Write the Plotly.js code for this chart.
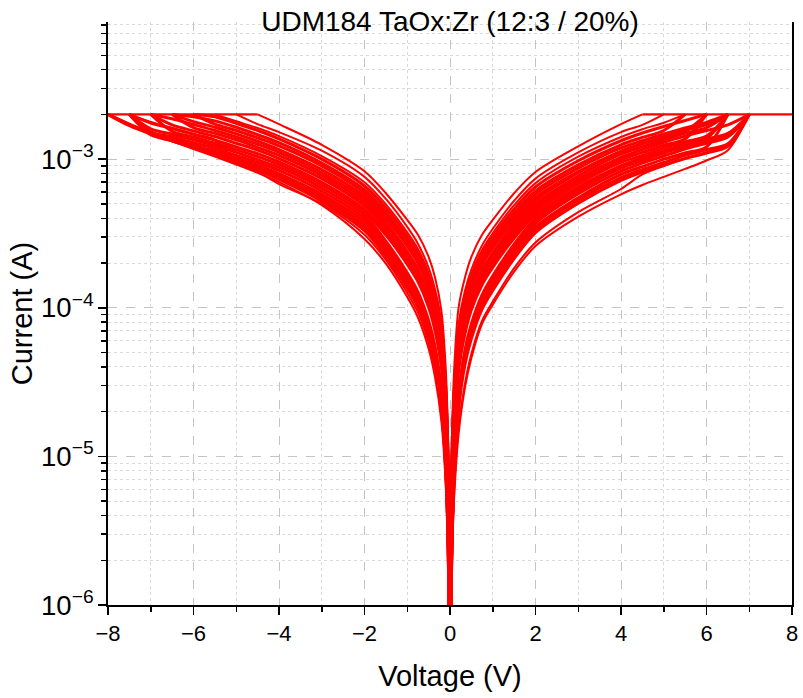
<!DOCTYPE html>
<html><head><meta charset="utf-8">
<script src="https://cdn.plot.ly/plotly-3.0.1.min.js"></script>
<style>html,body{margin:0;padding:0;background:#fff}#chart{width:803px;height:698px}</style>
</head><body><div id="chart"></div>
<script>
// Voltage points (V) shared by all sweeps; each sweep stops where it hits compliance
const posVoltage = [0, 0.02, 0.05, 0.1, 0.2, 0.35, 0.5, 0.75, 1, 1.5, 2, 3, 4, 4.5, 5, 5.5, 6, 6.5, 7, 7.5, 8];
const negVoltage = [0, -0.02, -0.05, -0.1, -0.2, -0.35, -0.5, -0.75, -1, -1.5, -2, -3, -4, -4.5, -5, -5.5, -6, -6.5, -7, -7.5, -8];
const complianceCurrent = 2e-3;

// Positive-bias sweeps: current (A)
const pos01 = [3e-7, 4e-6, 1.5e-5, 4e-5, 1e-4, 1.6e-4, 2.2e-4, 3.1e-4, 3.9e-4, 5.9e-4, 8.2e-4, 1.22e-3, 1.72e-3, 2e-3];
const pos02 = [3e-7, 3.7e-6, 1.26e-5, 3.2e-5, 7.8e-5, 1.3e-4, 1.81e-4, 2.63e-4, 3.4e-4, 5.25e-4, 7.4e-4, 1.11e-3, 1.52e-3, 1.7e-3, 2e-3];
const pos03 = [3e-7, 3.45e-6, 1.17e-5, 2.97e-5, 7.2e-5, 1.21e-4, 1.69e-4, 2.45e-4, 3.17e-4, 4.9e-4, 6.9e-4, 1.04e-3, 1.41e-3, 1.59e-3, 1.76e-3, 2e-3];
const pos04 = [3e-7, 3.25e-6, 1.1e-5, 2.8e-5, 6.8e-5, 1.14e-4, 1.59e-4, 2.31e-4, 2.99e-4, 4.6e-4, 6.5e-4, 9.75e-4, 1.33e-3, 1.5e-3, 1.66e-3, 1.82e-3, 2e-3];
const pos05 = [3e-7, 3.05e-6, 1.04e-5, 2.6e-5, 6.4e-5, 1.07e-4, 1.49e-4, 2.17e-4, 2.8e-4, 4.33e-4, 6.1e-4, 9.15e-4, 1.25e-3, 1.4e-3, 1.56e-3, 2e-3];
const pos06 = [3e-7, 2.9e-6, 9.9e-6, 2.5e-5, 6.1e-5, 1.02e-4, 1.42e-4, 2.06e-4, 2.67e-4, 4.12e-4, 5.8e-4, 8.7e-4, 1.19e-3, 1.33e-3, 1.48e-3, 1.62e-3, 1.77e-3, 2e-3];
const pos07 = [3e-7, 2.75e-6, 9.4e-6, 2.37e-5, 5.8e-5, 9.6e-5, 1.35e-4, 1.95e-4, 2.53e-4, 3.9e-4, 5.5e-4, 8.25e-4, 1.13e-3, 1.27e-3, 1.4e-3, 1.54e-3, 2e-3];
const pos08 = [3e-7, 2e-6, 7.1e-6, 1.84e-5, 4.7e-5, 8.4e-5, 1.21e-4, 1.79e-4, 2.34e-4, 3.68e-4, 5.25e-4, 8.1e-4, 1.13e-3, 1.27e-3, 1.42e-3, 1.56e-3, 1.71e-3, 2e-3];
const pos09 = [3e-7, 1.9e-6, 6.75e-6, 1.75e-5, 4.5e-5, 8e-5, 1.15e-4, 1.7e-4, 2.23e-4, 3.5e-4, 5e-4, 7.7e-4, 1.08e-3, 1.21e-3, 1.35e-3, 1.49e-3, 1.63e-3, 2e-3];
const pos10 = [3e-7, 1.82e-6, 6.5e-6, 1.68e-5, 4.3e-5, 7.7e-5, 1.1e-4, 1.63e-4, 2.14e-4, 3.36e-4, 4.8e-4, 7.4e-4, 1.03e-3, 1.16e-3, 1.3e-3, 1.43e-3, 1.56e-3, 1.7e-3, 2e-3];
const pos11 = [3e-7, 1.75e-6, 6.2e-6, 1.61e-5, 4.1e-5, 7.4e-5, 1.06e-4, 1.56e-4, 2.05e-4, 3.22e-4, 4.6e-4, 7.1e-4, 9.9e-4, 1.11e-3, 1.24e-3, 1.37e-3, 2e-3];
const pos12 = [3e-7, 1.67e-6, 5.9e-6, 1.54e-5, 4e-5, 7e-5, 1.01e-4, 1.5e-4, 1.96e-4, 3.08e-4, 4.4e-4, 6.8e-4, 9.5e-4, 1.06e-3, 1.19e-3, 1.31e-3, 1.43e-3, 2e-3];
const pos13 = [3e-7, 1.6e-6, 5.7e-6, 1.47e-5, 3.8e-5, 6.7e-5, 9.7e-5, 1.43e-4, 1.87e-4, 2.94e-4, 4.2e-4, 6.5e-4, 9e-4, 1.02e-3, 1.13e-3, 1.25e-3, 1.37e-3, 1.49e-3, 2e-3];
const pos14 = [3e-7, 1e-6, 3.6e-6, 9.6e-6, 2.6e-5, 5.2e-5, 7.8e-5, 1.22e-4, 1.64e-4, 2.68e-4, 4e-4, 6.3e-4, 9e-4, 1.02e-3, 1.14e-3, 1.26e-3, 1.38e-3, 2e-3];
const pos15 = [3e-7, 9.6e-7, 3.5e-6, 9.2e-6, 2.5e-5, 5e-5, 7.5e-5, 1.17e-4, 1.58e-4, 2.58e-4, 3.85e-4, 6.1e-4, 8.7e-4, 9.8e-4, 1.1e-3, 1.21e-3, 1.33e-3, 1.46e-3, 2e-3];
const pos16 = [3e-7, 9.2e-7, 3.3e-6, 8.9e-6, 2.4e-5, 4.8e-5, 7.2e-5, 1.13e-4, 1.52e-4, 2.48e-4, 3.7e-4, 5.85e-4, 8.3e-4, 9.4e-4, 1.05e-3, 1.17e-3, 1.28e-3, 1.41e-3, 2e-3];
const pos17 = [3e-7, 8.7e-7, 3.15e-6, 8.4e-6, 2.28e-5, 4.55e-5, 6.8e-5, 1.07e-4, 1.44e-4, 2.35e-4, 3.5e-4, 5.5e-4, 7.9e-4, 8.9e-4, 1e-3, 1.1e-3, 1.21e-3, 2e-3];
const pos18 = [3e-7, 8.4e-7, 3e-6, 8e-6, 2.18e-5, 4.35e-5, 6.5e-5, 1.02e-4, 1.37e-4, 2.24e-4, 3.35e-4, 5.3e-4, 7.5e-4, 8.5e-4, 9.5e-4, 1.06e-3, 1.16e-3, 1.27e-3, 2e-3];
const pos19 = [3e-7, 8e-7, 2.9e-6, 7.7e-6, 2.08e-5, 4.15e-5, 6.2e-5, 9.8e-5, 1.31e-4, 2.14e-4, 3.2e-4, 5.05e-4, 7.2e-4, 8.2e-4, 9.1e-4, 1.01e-3, 1.1e-3, 1.22e-3, 2e-3];
const pos20 = [3e-7, 6.5e-7, 2.4e-6, 6e-6, 1.55e-5, 3.1e-5, 4.9e-5, 8.2e-5, 1.1e-4, 1.85e-4, 2.75e-4, 4.4e-4, 6.3e-4, 7.9e-4, 9e-4, 1.01e-3, 1.12e-3, 1.25e-3, 2e-3];
const pos21 = [3e-7, 6e-7, 2.2e-6, 5.5e-6, 1.4e-5, 2.9e-5, 4.6e-5, 7.8e-5, 1.05e-4, 1.75e-4, 2.6e-4, 4.1e-4, 5.8e-4, 6.7e-4, 7.6e-4, 8.6e-4, 9.8e-4, 1.15e-3, 2e-3];

// Negative-bias sweeps: |current| (A)
const neg01 = [3e-7, 4e-6, 1.5e-5, 3.9e-5, 9.5e-5, 1.6e-4, 2.2e-4, 3.1e-4, 3.9e-4, 5.9e-4, 8.3e-4, 1.25e-3, 1.72e-3, 2e-3];
const neg02 = [3e-7, 3.8e-6, 1.3e-5, 3.3e-5, 8e-5, 1.33e-4, 1.86e-4, 2.7e-4, 3.5e-4, 5.4e-4, 7.6e-4, 1.14e-3, 1.52e-3, 1.72e-3, 2e-3];
const neg03 = [3e-7, 3.5e-6, 1.19e-5, 3e-5, 7.35e-5, 1.23e-4, 1.72e-4, 2.49e-4, 3.22e-4, 4.97e-4, 7e-4, 1.05e-3, 1.43e-3, 1.62e-3, 1.8e-3, 2e-3];
const neg04 = [3e-7, 3.3e-6, 1.12e-5, 2.84e-5, 6.9e-5, 1.16e-4, 1.62e-4, 2.34e-4, 3.04e-4, 4.7e-4, 6.6e-4, 1.0e-3, 1.37e-3, 1.56e-3, 1.74e-3, 1.93e-3, 2e-3];
const neg05 = [3e-7, 3.1e-6, 1.05e-5, 2.67e-5, 6.5e-5, 1.09e-4, 1.52e-4, 2.2e-4, 2.85e-4, 4.4e-4, 6.2e-4, 9.4e-4, 1.29e-3, 1.46e-3, 1.64e-3, 1.81e-3, 1.93e-3, 2e-3];
const neg06 = [3e-7, 2.95e-6, 1e-5, 2.54e-5, 6.2e-5, 1.03e-4, 1.45e-4, 2.09e-4, 2.71e-4, 4.19e-4, 5.9e-4, 9e-4, 1.23e-3, 1.39e-3, 1.56e-3, 1.72e-3, 2e-3];
const neg07 = [3e-7, 2.8e-6, 9.5e-6, 2.4e-5, 5.9e-5, 9.8e-5, 1.37e-4, 1.99e-4, 2.58e-4, 3.98e-4, 5.6e-4, 8.5e-4, 1.16e-3, 1.32e-3, 1.48e-3, 1.64e-3, 1.79e-3, 2e-3];
const neg08 = [3e-7, 2.03e-6, 7.2e-6, 1.87e-5, 4.8e-5, 8.6e-5, 1.23e-4, 1.82e-4, 2.38e-4, 3.75e-4, 5.35e-4, 8.1e-4, 1.11e-3, 1.26e-3, 1.41e-3, 1.56e-3, 1.71e-3, 1.87e-3, 2e-3];
const neg09 = [3e-7, 1.94e-6, 6.9e-6, 1.79e-5, 4.6e-5, 8.2e-5, 1.17e-4, 1.73e-4, 2.27e-4, 3.57e-4, 5.1e-4, 7.75e-4, 1.06e-3, 1.2e-3, 1.35e-3, 1.49e-3, 1.63e-3, 2e-3];
const neg10 = [3e-7, 1.84e-6, 6.5e-6, 1.7e-5, 4.4e-5, 7.8e-5, 1.12e-4, 1.65e-4, 2.16e-4, 3.4e-4, 4.85e-4, 7.4e-4, 1.01e-3, 1.15e-3, 1.28e-3, 1.42e-3, 1.55e-3, 1.7e-3, 2e-3];
const neg11 = [3e-7, 1.75e-6, 6.2e-6, 1.61e-5, 4.1e-5, 7.4e-5, 1.06e-4, 1.56e-4, 2.05e-4, 3.22e-4, 4.6e-4, 7e-4, 9.6e-4, 1.09e-3, 1.21e-3, 1.34e-3, 1.47e-3, 1.61e-3, 1.75e-3, 2e-3];
const neg12 = [3e-7, 1.67e-6, 5.9e-6, 1.54e-5, 4e-5, 7e-5, 1.01e-4, 1.5e-4, 1.96e-4, 3.08e-4, 4.4e-4, 6.7e-4, 9.2e-4, 1.04e-3, 1.16e-3, 1.28e-3, 1.41e-3, 1.54e-3, 2e-3];
const neg13 = [3e-7, 1.05e-6, 3.8e-6, 1.01e-5, 2.73e-5, 5.5e-5, 8.2e-5, 1.28e-4, 1.72e-4, 2.81e-4, 4.2e-4, 6.4e-4, 8.8e-4, 9.9e-4, 1.11e-3, 1.23e-3, 1.35e-3, 1.47e-3, 1.6e-3, 2e-3];
const neg14 = [3e-7, 1e-6, 3.6e-6, 9.6e-6, 2.6e-5, 5.2e-5, 7.8e-5, 1.22e-4, 1.64e-4, 2.68e-4, 4e-4, 6.1e-4, 8.4e-4, 9.5e-4, 1.06e-3, 1.18e-3, 1.29e-3, 1.41e-3, 1.53e-3, 2e-3];
const neg15 = [3e-7, 9.5e-7, 3.4e-6, 9.1e-6, 2.47e-5, 4.9e-5, 7.4e-5, 1.16e-4, 1.56e-4, 2.55e-4, 3.8e-4, 5.8e-4, 8e-4, 9.1e-4, 1.02e-3, 1.13e-3, 1.24e-3, 1.36e-3, 1.49e-3, 1.7e-3, 2e-3];
const neg16 = [3e-7, 9e-7, 3.25e-6, 8.6e-6, 2.34e-5, 4.7e-5, 7e-5, 1.1e-4, 1.48e-4, 2.41e-4, 3.6e-4, 5.55e-4, 7.7e-4, 8.8e-4, 9.9e-4, 1.1e-3, 1.21e-3, 1.33e-3, 1.46e-3, 2e-3];
const neg17 = [3e-7, 8.6e-7, 3.1e-6, 8.3e-6, 2.24e-5, 4.5e-5, 6.7e-5, 1.05e-4, 1.41e-4, 2.31e-4, 3.45e-4, 5.35e-4, 7.5e-4, 8.6e-4, 9.7e-4, 1.08e-3, 1.2e-3, 1.33e-3, 1.48e-3, 1.68e-3, 2e-3];
const neg18 = [3e-7, 8.2e-7, 3e-6, 7.9e-6, 2.15e-5, 4.3e-5, 6.4e-5, 1.01e-4, 1.35e-4, 2.21e-4, 3.3e-4, 5.2e-4, 7.3e-4, 8.4e-4, 9.5e-4, 1.07e-3, 1.19e-3, 1.33e-3, 1.5e-3, 1.72e-3, 2e-3];
const neg19 = [3e-7, 8e-7, 2.8e-6, 7.5e-6, 1.9e-5, 3.8e-5, 5.8e-5, 9.3e-5, 1.26e-4, 2.1e-4, 3.1e-4, 5e-4, 6.8e-4, 8.2e-4, 9.5e-4, 1.35e-3, 1.48e-3, 1.62e-3, 1.78e-3, 2e-3];
const neg20 = [3e-7, 7e-7, 2.5e-6, 6.5e-6, 1.7e-5, 3.4e-5, 5.3e-5, 8.6e-5, 1.18e-4, 1.98e-4, 2.9e-4, 4.9e-4, 7e-4, 8.1e-4, 9.2e-4, 1.04e-3, 1.17e-3, 1.32e-3, 1.5e-3, 1.72e-3, 2e-3];

const chartTitle = 'UDM184 TaOx:Zr (12:3 / 20%)';
const xTitle = 'Voltage (V)';
const yTitle = 'Current (A)';

// outer (isolated) sweeps are drawn thinner than the dense central band
const posOuter = [pos01, pos02, pos03, pos20, pos21];
const posDense = [pos04, pos05, pos06, pos07, pos08, pos09, pos10, pos11, pos12, pos13, pos14, pos15, pos16, pos17, pos18, pos19];
const negOuter = [neg01, neg02, neg03, neg19, neg20];
const negDense = [neg04, neg05, neg06, neg07, neg08, neg09, neg10, neg11, neg12, neg13, neg14, neg15, neg16, neg17, neg18];

const outerStyle = {color: '#ff0000', width: 2, shape: 'spline', smoothing: 0.9};
const denseStyle = {color: '#ff0000', width: 3, shape: 'spline', smoothing: 0.9};
const flatStyle = {color: '#ff0000', width: 2.2};
const traces = [];
function addSweeps(list, volts, style) {
  list.forEach(s => traces.push({type: 'scatter', mode: 'lines', x: volts.slice(0, s.length), y: s, line: style, hoverinfo: 'skip', showlegend: false}));
}
addSweeps(posDense, posVoltage, denseStyle);
addSweeps(negDense, negVoltage, denseStyle);
addSweeps(posOuter, posVoltage, outerStyle);
addSweeps(negOuter, negVoltage, outerStyle);
// compliance plateau from the first sweep that reaches it out to the end of the sweep range
traces.push({type: 'scatter', mode: 'lines', x: [posVoltage[pos01.length - 1], posVoltage[posVoltage.length - 1]], y: [complianceCurrent, complianceCurrent], line: flatStyle, hoverinfo: 'skip', showlegend: false});
traces.push({type: 'scatter', mode: 'lines', x: [negVoltage[neg01.length - 1], negVoltage[negVoltage.length - 1]], y: [complianceCurrent, complianceCurrent], line: flatStyle, hoverinfo: 'skip', showlegend: false});

const font = 'Liberation Sans, Arial, sans-serif';
const layout = {
  width: 803, height: 698,
  margin: {l: 108, r: 11, t: 22, b: 93},
  paper_bgcolor: '#ffffff', plot_bgcolor: '#ffffff',
  font: {family: font, color: '#000000', size: 22},
  title: {text: chartTitle, x: 0.5, xref: 'paper', xanchor: 'center', y: 0.969, yref: 'container', yanchor: 'middle', font: {family: font, size: 28, color: '#000000'}},
  xaxis: {
    range: [-8, 8], dtick: 2, tick0: 0, ticks: 'outside', ticklen: 8, tickwidth: 1.5, tickcolor: '#000',
    showline: true, linecolor: '#000', linewidth: 2, mirror: false, zeroline: false,
    showgrid: true, gridcolor: '#c4c4c4', griddash: 'dash', gridwidth: 1,
    minor: {dtick: 1, ticks: 'outside', ticklen: 5, tickwidth: 1.5, tickcolor: '#000', showgrid: true, gridcolor: '#d8d8d8', griddash: 'dot', gridwidth: 1},
    tickfont: {family: font, size: 22, color: '#000'},
    title: {text: xTitle, font: {family: font, size: 29, color: '#000'}, standoff: 20}
  },
  yaxis: {
    type: 'log', range: [-6, -2.077], dtick: 1, tick0: 0, exponentformat: 'power', showexponent: 'all',
    ticks: 'outside', ticklen: 8, tickwidth: 1.5, tickcolor: '#000',
    showline: true, linecolor: '#000', linewidth: 2, mirror: true,
    showgrid: true, gridcolor: '#c4c4c4', griddash: 'dash', gridwidth: 1,
    minor: {dtick: 'D1', ticks: 'outside', ticklen: 5, tickwidth: 1.5, tickcolor: '#000', showgrid: true, gridcolor: '#dadada', griddash: 'dot', gridwidth: 1},
    tickfont: {family: font, size: 22, color: '#000'},
    title: {text: yTitle, font: {family: font, size: 29, color: '#000'}, standoff: 0}
  }
};
Plotly.newPlot('chart', traces, layout, {displayModeBar: false, staticPlot: true});
</script>
</body></html>
